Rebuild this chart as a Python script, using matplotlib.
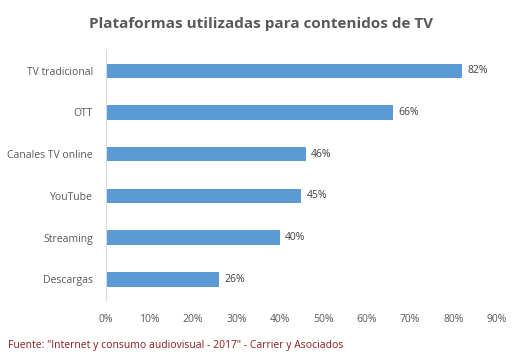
import matplotlib
matplotlib.use("Agg")
import matplotlib.pyplot as plt
from matplotlib.ticker import FuncFormatter

# datos
categorias = ["TV tradicional", "OTT", "Canales TV online", "YouTube", "Streaming", "Descargas"]
valores = [82, 66, 46, 45, 40, 26]
ticks_x = [0, 10, 20, 30, 40, 50, 60, 70, 80, 90]

titulo = "Plataformas utilizadas para contenidos de TV"
fuente = 'Fuente: "Internet y consumo audiovisual - 2017" - Carrier y Asociados'

plt.rcParams["font.family"] = ["Open Sans", "DejaVu Sans"]

fig = plt.figure(figsize=(5.22, 3.62), dpi=100)
ax = fig.add_axes([0.203, 0.171, 0.749, 0.691])

pos = list(range(len(categorias)))
ax.barh(pos, valores, height=0.35, color="#5B9BD5")
for p, v in zip(pos, valores):
    ax.text(v + 1.2, p, "%d%%" % v, va="center", ha="left", fontsize=7.5, color="#404040")

ax.set_yticks(pos)
ax.set_yticklabels(categorias)
ax.set_ylim(len(categorias) - 0.5, -0.5)
ax.set_xlim(0, 90)
ax.set_xticks(ticks_x)
ax.xaxis.set_major_formatter(FuncFormatter(lambda x, _: "%d%%" % x))

for s in ["top", "right", "bottom"]:
    ax.spines[s].set_visible(False)
ax.spines["left"].set_color("#D9D9D9")
ax.tick_params(axis="both", length=0, labelsize=7.5, colors="#595959")
ax.tick_params(axis="y", pad=9.5)
ax.tick_params(axis="x", pad=10)

fig.text(0.5, 0.935, titulo, ha="center", va="center", fontsize=11, fontweight="bold", color="#595959")
fig.text(0.015, 0.045, fuente, ha="left", va="center", fontsize=7.5, color="#8B1A1A")

fig.savefig("out.png", dpi=100)
